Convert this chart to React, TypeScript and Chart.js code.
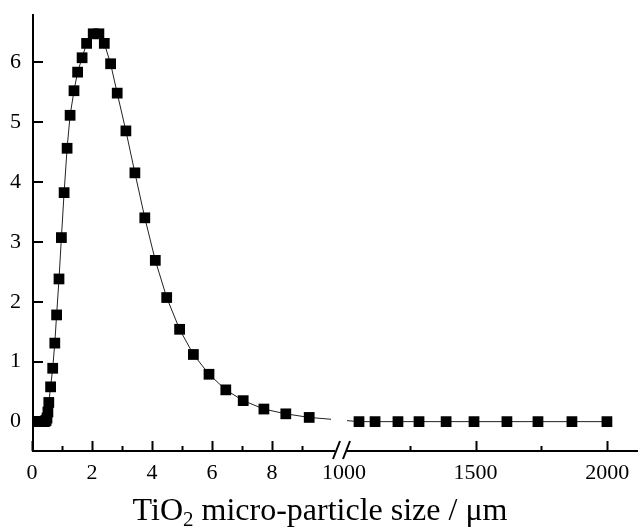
import React, { useEffect, useRef } from 'react';
import { Chart, registerables } from 'chart.js';

Chart.register(...registerables);

// Particle size (µm) – fine segment 0..10
const smallSizes = [
  0.2, 0.23, 0.26, 0.29, 0.32, 0.35, 0.38, 0.41, 0.44, 0.47, 0.5, 0.53, 0.56,
  0.62, 0.69, 0.76, 0.82, 0.9, 0.98, 1.07, 1.17, 1.27, 1.4, 1.52, 1.67, 1.82,
  2.04, 2.23, 2.41, 2.62, 2.84, 3.13, 3.43, 3.76, 4.11, 4.49, 4.92, 5.38, 5.9,
  6.46, 7.04, 7.73, 8.46, 9.24,
];
const smallValues = [
  0, 0, 0, 0, 0, 0, 0, 0, 0.01, 0.02, 0.06, 0.16, 0.32,
  0.58, 0.89, 1.31, 1.78, 2.38, 3.07, 3.82, 4.56, 5.11, 5.52, 5.83, 6.07, 6.31,
  6.47, 6.47, 6.31, 5.97, 5.48, 4.85, 4.15, 3.4, 2.69, 2.07, 1.54, 1.12, 0.79,
  0.53, 0.35, 0.21, 0.13, 0.07,
];
// Particle size (µm) – coarse segment 1000..2000
const largeSizes = [1057, 1118, 1205, 1285, 1388, 1494, 1619, 1737, 1866, 1999];
const largeValues = [0, 0, 0, 0, 0, 0, 0, 0, 0, 0];

const leftMajorTicks = [0, 2, 4, 6, 8];
const leftMinorTicks = [1, 3, 5, 7, 9];
const rightMajorTicks = [1000, 1500, 2000];
const rightMinorTicks = [1250, 1750];
const yTicks = [0, 1, 2, 3, 4, 5, 6];

const titleMain = 'TiO';
const titleSub = '2';
const titleRest = ' micro-particle size / μm';

// broken-axis mapping
const BREAK_LEFT = 10;
const BREAK_GAP = 0.4;
const RIGHT_FACTOR = 0.008773;
function toU(x: number): number {
  return x <= BREAK_LEFT ? x : BREAK_LEFT + BREAK_GAP + (x - 1000) * RIGHT_FACTOR;
}

const FONT = "'Liberation Serif', 'Times New Roman', serif";

type TickDef = { u: number; label: string; major: boolean; mark: boolean };
const tickDefs: TickDef[] = [
  ...leftMajorTicks.map((v) => ({ u: toU(v), label: String(v), major: true, mark: true })),
  ...leftMinorTicks.map((v) => ({ u: toU(v), label: '', major: false, mark: true })),
  ...rightMajorTicks.map((v) => ({ u: toU(v), label: String(v), major: true, mark: v !== 1000 })),
  ...rightMinorTicks.map((v) => ({ u: toU(v), label: '', major: false, mark: true })),
].sort((a, b) => a.u - b.u);

export default function App() {
  const ref = useRef<HTMLCanvasElement | null>(null);

  useEffect(() => {
    if (!ref.current) return;
    const points = [
      ...smallSizes.map((s, i) => ({ x: toU(s), y: smallValues[i] })),
      ...largeSizes.map((s, i) => ({ x: toU(s), y: largeValues[i] })),
    ];

    const axesPlugin = {
      id: 'brokenAxes',
      afterDatasetsDraw(chart: any) {
        const ctx = chart.ctx as CanvasRenderingContext2D;
        const xs = chart.scales.x;
        const { top, bottom } = chart.chartArea;
        const bx1 = xs.getPixelForValue(BREAK_LEFT);
        const bx2 = xs.getPixelForValue(BREAK_LEFT + BREAK_GAP);
        ctx.save();
        ctx.fillStyle = '#fff';
        ctx.fillRect(bx1 - 1, top, bx2 - bx1 + 4, bottom - top - 3);
        ctx.restore();
      },
      afterDraw(chart: any) {
        const ctx = chart.ctx as CanvasRenderingContext2D;
        const xs = chart.scales.x;
        const ys = chart.scales.y;
        const { left, right, top, bottom } = chart.chartArea;
        ctx.save();
        ctx.strokeStyle = '#000';
        ctx.lineWidth = 2;
        ctx.lineCap = 'butt';
        // axes lines
        ctx.beginPath();
        ctx.moveTo(left + 1, top);
        ctx.lineTo(left + 1, bottom + 1);
        ctx.moveTo(left, bottom);
        ctx.lineTo(right, bottom);
        ctx.stroke();
        // y ticks (inward)
        ctx.beginPath();
        yTicks.forEach((v) => {
          const py = Math.round(ys.getPixelForValue(v));
          ctx.moveTo(left, py);
          ctx.lineTo(left + 11, py);
        });
        // x ticks (inward)
        tickDefs.forEach((t) => {
          if (!t.mark) return;
          const px = Math.round(xs.getPixelForValue(t.u)) + 0.5;
          const len = t.major ? 10 : 5;
          ctx.moveTo(px, bottom);
          ctx.lineTo(px, bottom - len);
        });
        ctx.stroke();
        // break marks
        const bx1 = xs.getPixelForValue(BREAK_LEFT);
        const bx2 = xs.getPixelForValue(BREAK_LEFT + BREAK_GAP);
        ctx.fillStyle = '#fff';
        ctx.fillRect(bx1 + 3, bottom - 2, bx2 - bx1, 4);
        ctx.beginPath();
        ctx.moveTo(bx1 + 1, bottom + 8);
        ctx.lineTo(bx1 + 8, bottom - 10);
        ctx.moveTo(bx1 + 11, bottom + 8);
        ctx.lineTo(bx1 + 18, bottom - 10);
        ctx.stroke();
        // title
        ctx.fillStyle = '#000';
        ctx.textBaseline = 'alphabetic';
        ctx.textAlign = 'left';
        const mainFont = `32px ${FONT}`;
        const subFont = `21px ${FONT}`;
        ctx.font = mainFont;
        const w1 = ctx.measureText(titleMain).width;
        const w3 = ctx.measureText(titleRest).width;
        ctx.font = subFont;
        const w2 = ctx.measureText(titleSub).width;
        const total = w1 + w2 + w3;
        const cx = 320;
        const base = 520;
        let x0 = cx - total / 2;
        ctx.font = mainFont;
        ctx.fillText(titleMain, x0, base);
        x0 += w1;
        ctx.font = subFont;
        ctx.fillText(titleSub, x0, base + 6);
        x0 += w2;
        ctx.font = mainFont;
        ctx.fillText(titleRest, x0, base);
        ctx.restore();
      },
    };

    const chart = new Chart(ref.current, {
      type: 'line',
      data: {
        datasets: [
          {
            data: points,
            borderColor: '#222',
            borderWidth: 1,
            pointStyle: 'rect',
            pointRadius: 7.6,
            pointBorderWidth: 0,
            pointBackgroundColor: '#000',
            pointBorderColor: '#000',
            fill: false,
            tension: 0,
            clip: false,
          },
        ],
      },
      options: {
        responsive: false,
        animation: false,
        events: [],
        layout: { autoPadding: false, padding: { top: 14, right: 0, left: 0, bottom: 0 } },
        plugins: { legend: { display: false }, tooltip: { enabled: false }, title: { display: false } },
        scales: {
          x: {
            type: 'linear',
            min: 0,
            max: 20.2,
            border: { display: false },
            grid: { display: false, drawTicks: false },
            afterFit(scale: any) {
              scale.height = 79;
              scale.paddingLeft = 0;
              scale.paddingRight = 0;
            },
            afterBuildTicks(scale: any) {
              scale.ticks = tickDefs.map((t) => ({ value: t.u }));
            },
            ticks: {
              autoSkip: false,
              maxRotation: 0,
              minRotation: 0,
              padding: 9,
              color: '#000',
              font: { family: FONT, size: 22 },
              callback: (_v: any, i: number) => tickDefs[i].label,
            },
          },
          y: {
            type: 'linear',
            min: -0.49,
            max: 6.8,
            border: { display: false },
            grid: { display: false, drawTicks: false },
            afterFit(scale: any) {
              scale.width = 32;
              scale.paddingTop = 0;
              scale.paddingBottom = 0;
            },
            afterBuildTicks(scale: any) {
              scale.ticks = yTicks.map((v) => ({ value: v }));
            },
            ticks: {
              padding: 11,
              color: '#000',
              font: { family: FONT, size: 22 },
              callback: (v: any) => String(v),
            },
          },
        },
      },
      plugins: [axesPlugin],
    });
    return () => chart.destroy();
  }, []);

  return (
    <div style={{ position: 'fixed', left: 0, top: 0, width: 638, height: 530, background: '#fff' }}>
      <canvas ref={ref} width={638} height={530} style={{ display: 'block', width: 638, height: 530 }} />
    </div>
  );
}
